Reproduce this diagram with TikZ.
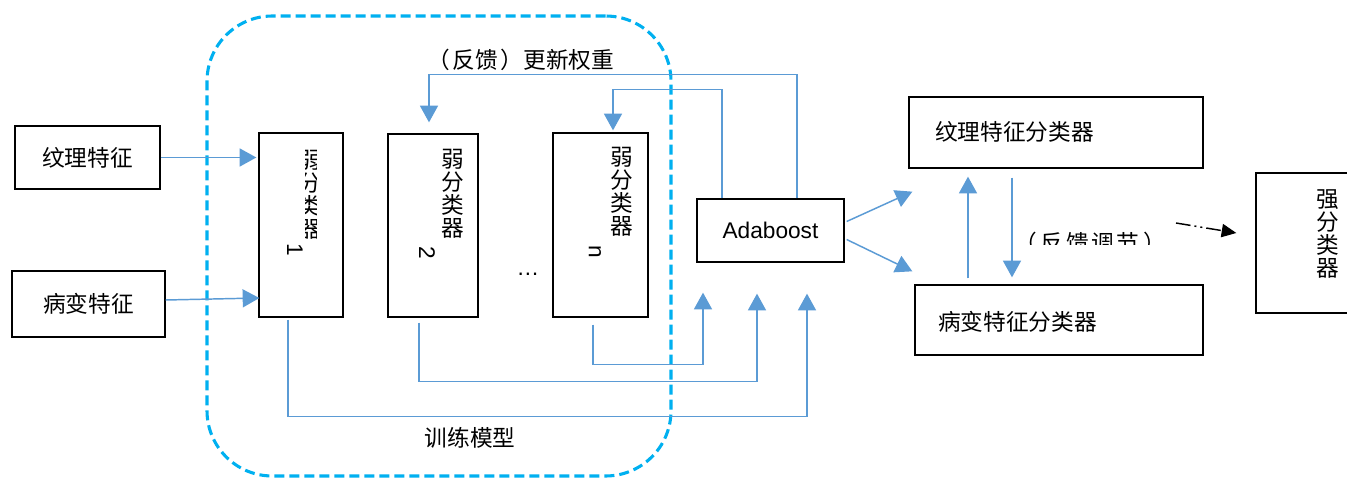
\documentclass[tikz,border=0pt]{standalone}
\usepackage{fontspec}
\setmainfont{Liberation Sans}
\newfontfamily\cjk{Noto Sans CJK SC}
\usetikzlibrary{arrows.meta,calc}
\definecolor{lblue}{HTML}{5B9BD5}
\definecolor{cyanb}{HTML}{00B0F0}
\begin{document}
\begin{tikzpicture}[x=0.75pt,y=-0.75pt,
 box/.style={draw=black, line width=1pt, inner sep=0pt, rectangle},
 arr/.style={draw=lblue, line width=1.1pt, -{Triangle[length=12.5pt,width=13.5pt]}},
 txt/.style={font=\cjk\fontsize{17}{20}\selectfont, inner sep=0pt},
 vtxt/.style={font=\cjk\fontsize{17}{17.25}\selectfont, align=center, inner sep=0pt},
 digit/.style={font=\fontsize{17}{17}\selectfont, inner sep=0pt, rotate=-90},
]
\useasboundingbox (0,0) rectangle (1347,478);
\fill[white] (0,0) rectangle (1347,478);

% training region
\node[draw=cyanb, line width=2.3pt, dash pattern=on 7.5pt off 3.75pt, rounded corners=49pt,
      minimum width=348pt, minimum height=345pt, inner sep=0pt] (train) at (439,246) {};

% input boxes
\node[box, txt, minimum width=108.75pt, minimum height=47.25pt] (t1) at (87.5,157.5) {纹理特征};
\node[box, txt, minimum width=114.75pt, minimum height=49.5pt] (b1) at (88.5,304) {病变特征};

% weak classifiers
\node[box, minimum width=63pt, minimum height=138pt] (w1) at (301,225) {};
\node[box, minimum width=67.5pt, minimum height=137.25pt] (w2) at (433,225.5) {};
\node[box, minimum width=71.25pt, minimum height=138pt] (wn) at (600.5,225) {};

\begin{scope}
\clip (305,140) rectangle (316,250);
\node[vtxt] (w1t) at (310,195) {弱\\分\\类\\器};
\end{scope}
\node[digit] (w1d) at (295,250) {1};
\node[vtxt] (w2t) at (453,194) {弱\\分\\类\\器};
\node[digit] (w2d) at (427,253) {2};
\node[vtxt] (wnt) at (622,192) {弱\\分\\类\\器};
\node[digit] (wnd) at (595,252) {n};
\node[font=\fontsize{17}{17}\selectfont, inner sep=0pt] (dots) at (528,274) {…};

% Adaboost
\node[box, minimum width=110.25pt, minimum height=47.25pt, font=\fontsize{17}{20}\selectfont] (ada) at (770.5,230.5) {Adaboost};

% classifiers
\node[box, minimum width=220.5pt, minimum height=53.25pt] (tc) at (1056,132.5) {};
\node[txt, anchor=west] (tct) at (935,132) {纹理特征分类器};
\node[box, minimum width=216pt, minimum height=52.5pt] (bc) at (1059,320) {};
\node[txt, anchor=west] (bct) at (938,322) {病变特征分类器};

\node[box, minimum width=72pt, minimum height=105pt] (strong) at (1304,243) {};
\node[vtxt] (strt) at (1328,234) {强\\分\\类\\器};

% labels
\node[txt] (fbw) at (521,60) {（\hspace{2pt}反馈\hspace{2pt}）更新权重};
\node[txt] (trl) at (470,438) {训练模型};
\begin{scope}
\clip (1000,215) rectangle (1200,244);
\node[txt] (fbt) at (1090,243) {（\hspace{3pt}反\hspace{2pt}馈\hspace{2pt}调\hspace{2pt}节\hspace{3pt}）};
\end{scope}

% inputs
\draw[arr, shorten >=1.5pt] (t1.east) -- (t1.east -| w1.west);
\draw[arr] ($(b1.east)+(0,-4)$) -- ($(w1.west)+(1,73)$);

% feedback
\draw[arr] ($(ada.north)+(26.5,0)$) -- ++(0,-124) -| ($(w2.north)+(-4,-11)$);
\draw[arr] ($(ada.north)+(-48.5,0)$) -- ++(0,-109) -| ($(wn.north)+(12.5,-2)$);

% outputs to Adaboost
\coordinate (tA) at ($(ada.south)+(-67.5,30)$);
\coordinate (tB) at ($(ada.south)+(-13.5,31)$);
\coordinate (tC) at ($(ada.south)+(36.5,31)$);
\draw[arr] ($(wn.south)+(-7.5,7)$) |- ($(tA)+(0,72)$) -- (tA);
\draw[arr] ($(w2.south)+(-14,5)$) |- ($(tB)+(0,88)$) -- (tB);
\draw[arr] ($(w1.south)+(-13,2)$) |- ($(tC)+(0,123)$) -- (tC);

% Adaboost to classifiers
\draw[arr] ($(ada.east)+(2,-9)$) -- ($(tc.south west)+(4,23)$);
\draw[arr] ($(ada.east)+(2,9)$) -- ($(bc.north west)+(-2,-13)$);

% between classifiers
\draw[arr] ($(bc.north)+(-91,-6)$) -- ($(tc.south)+(-88,8)$);
\draw[arr] ($(tc.south)+(-44,9)$) -- ($(bc.north)+(-47,-7)$);

% to strong classifier
\coordinate (ds) at (1176,223);
\draw[black, line width=1.1pt, dash pattern=on 11pt off 3pt on 1.5pt off 3pt on 1.5pt off 3pt,
      -{Triangle[length=11pt,width=10pt]}] (ds) -- ($(strong.west)+(-19,-10)$);
\end{tikzpicture}
\end{document}
